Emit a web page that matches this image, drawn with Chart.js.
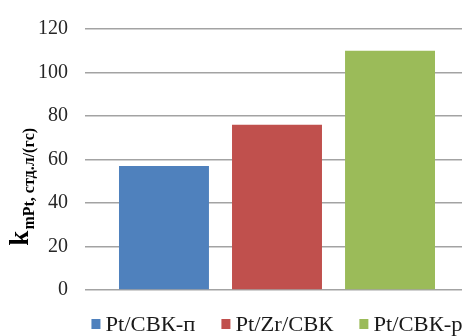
<!DOCTYPE html>
<html>
<head>
<meta charset="utf-8">
<script src="https://cdn.jsdelivr.net/npm/chart.js@4/dist/chart.umd.min.js"></script>
<style>
  html, body { margin: 0; padding: 0; background: #fff; overflow: hidden; }
  #wrap { position: relative; width: 470px; height: 336px; }
</style>
</head>
<body>
<div id="wrap"><canvas id="c"></canvas></div>
<script>
// Catalysts and their rate constants
const seriesNames = ['Pt/СВК-п', 'Pt/Zr/СВК', 'Pt/СВК-р'];
const seriesValues = [57, 76, 110];
const seriesColors = ['#4f81bd', '#c0504d', '#9bbb59'];
const yTicks = [0, 20, 40, 60, 80, 100, 120];

const serif = '"Liberation Serif", "Times New Roman", serif';

// Rotated y-axis caption: big "k" with a bold subscript
const axisCaption = {
  id: 'axisCaption',
  afterDraw(chart) {
    const ctx = chart.ctx;
    const area = chart.chartArea;
    ctx.save();
    ctx.translate(28, area.top + (area.bottom - area.top) * 0.83);
    ctx.rotate(-Math.PI / 2);
    ctx.fillStyle = '#000';
    ctx.textBaseline = 'alphabetic';
    ctx.textAlign = 'left';
    ctx.font = 'bold 27px ' + serif;
    ctx.fillText('k', 0, 0);
    const kw = ctx.measureText('k').width;
    ctx.font = 'bold 16px ' + serif;
    ctx.fillText('mPt, стд.л/(гс)', kw + 1, 6);
    ctx.restore();
  }
};

// Legend row under the plot, centred on the plot area (text set slightly wide)
const bottomLegend = {
  id: 'bottomLegend',
  afterDraw(chart) {
    const ctx = chart.ctx;
    const area = chart.chartArea;
    const boxW = 9, boxH = 10, gap = 5, spacing = 26, stretch = 1.13;
    ctx.save();
    ctx.font = '20px ' + serif;
    const items = chart.data.datasets.map(ds => ({
      text: ds.label, color: ds.backgroundColor, w: ctx.measureText(ds.label).width * stretch
    }));
    const total = items.reduce((s, it) => s + boxW + gap + it.w, 0) + spacing * (items.length - 1);
    let x = (area.left + area.right) / 2 - total / 2;
    const baseY = 331;
    items.forEach(it => {
      ctx.fillStyle = it.color;
      ctx.fillRect(x, baseY - 12, boxW, boxH);
      ctx.save();
      ctx.translate(x + boxW + gap, baseY);
      ctx.scale(stretch, 1);
      ctx.fillStyle = '#1a1a1a';
      ctx.textBaseline = 'alphabetic';
      ctx.fillText(it.text, 0, 0);
      ctx.restore();
      x += boxW + gap + it.w + spacing;
    });
    ctx.restore();
  }
};

new Chart(document.getElementById('c'), {
  type: 'bar',
  data: {
    labels: [''],
    datasets: seriesNames.map((name, i) => ({
      label: name,
      data: [seriesValues[i]],
      backgroundColor: seriesColors[i],
      borderWidth: 0
    }))
  },
  options: {
    responsive: true,
    maintainAspectRatio: false,
    animation: false,
    categoryPercentage: 0.883,
    barPercentage: 0.796,
    layout: { padding: { left: 0, right: 1, top: 23, bottom: 46 } },
    plugins: {
      legend: { display: false },
      tooltip: { enabled: false }
    },
    scales: {
      x: { display: false },
      y: {
        min: 0,
        max: 120,
        afterBuildTicks(scale) { scale.ticks = yTicks.map(v => ({ value: v })); },
        afterFit(scale) { scale.width = 85; },
        border: { display: false },
        grid: { color: '#a3a3a3', lineWidth: 1.5, drawTicks: false },
        ticks: {
          padding: 17,
          color: '#262626',
          font: { family: serif, size: 20 }
        }
      }
    }
  },
  plugins: [axisCaption, bottomLegend]
});
</script>
</body>
</html>
